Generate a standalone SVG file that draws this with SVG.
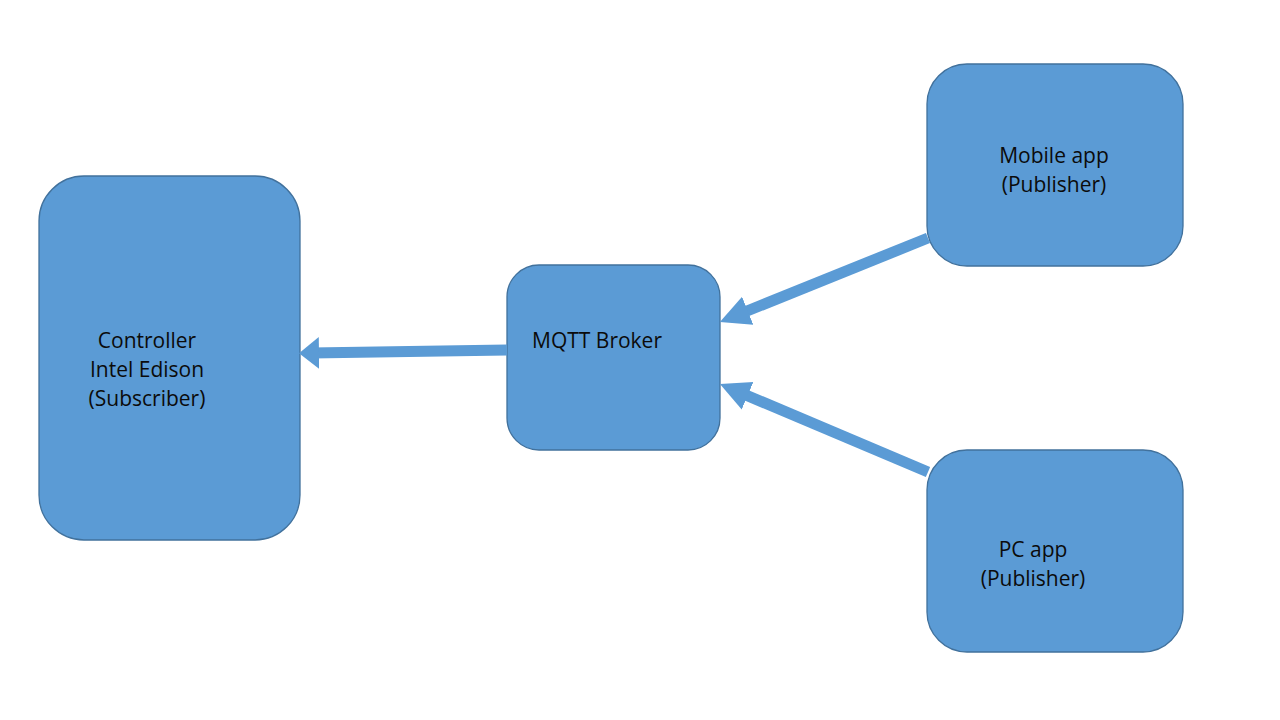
<svg xmlns="http://www.w3.org/2000/svg" width="1280" height="720" viewBox="0 0 1280 720">
<style>
.box{fill:#5B9BD5;stroke:#41719C;stroke-width:1.3}
.lbl{font-family:"Open Sans","Liberation Sans",Arial,sans-serif;font-size:21px;fill:#0b0b0b;text-anchor:middle}
.conn{stroke:#5B9BD5;stroke-width:11;fill:none}
</style>
<defs>
<marker id="headS" markerUnits="userSpaceOnUse" markerWidth="22" markerHeight="34" refX="8" refY="17" orient="auto">
<path d="M0,1 L20,17 L0,33 z" fill="#5B9BD5"/>
</marker>
<marker id="headL" markerUnits="userSpaceOnUse" markerWidth="32" markerHeight="34" refX="18" refY="17" orient="auto">
<path d="M0,2 L30,17 L0,32 z" fill="#5B9BD5"/>
</marker>
</defs>
<rect width="1280" height="720" fill="#fff"/>
<g id="controller">
<rect class="box" x="39" y="176" width="261" height="364" rx="45" ry="45"/>
<text class="lbl" x="147" y="348">Controller</text>
<text class="lbl" x="147" y="377">Intel Edison</text>
<text class="lbl" x="147" y="406">(Subscriber)</text>
</g>
<g id="broker">
<rect class="box" x="507" y="265" width="213" height="185" rx="32" ry="32"/>
<text class="lbl" x="597" y="348">MQTT Broker</text>
</g>
<g id="mobile">
<rect class="box" x="927" y="64" width="256" height="202" rx="40" ry="40"/>
<text class="lbl" x="1054" y="163">Mobile app</text>
<text class="lbl" x="1054" y="192">(Publisher)</text>
</g>
<g id="pc">
<rect class="box" x="927" y="450" width="256" height="202" rx="40" ry="40"/>
<text class="lbl" x="1033" y="557">PC app</text>
<text class="lbl" x="1033" y="586">(Publisher)</text>
</g>
<g id="connectors">
<line class="conn" x1="507" y1="350" x2="311" y2="353" marker-end="url(#headS)"/>
<line class="conn" x1="928" y1="238" x2="731" y2="317.5" marker-end="url(#headL)"/>
<line class="conn" x1="928" y1="472" x2="731" y2="388.7" marker-end="url(#headL)"/>
</g>
</svg>
